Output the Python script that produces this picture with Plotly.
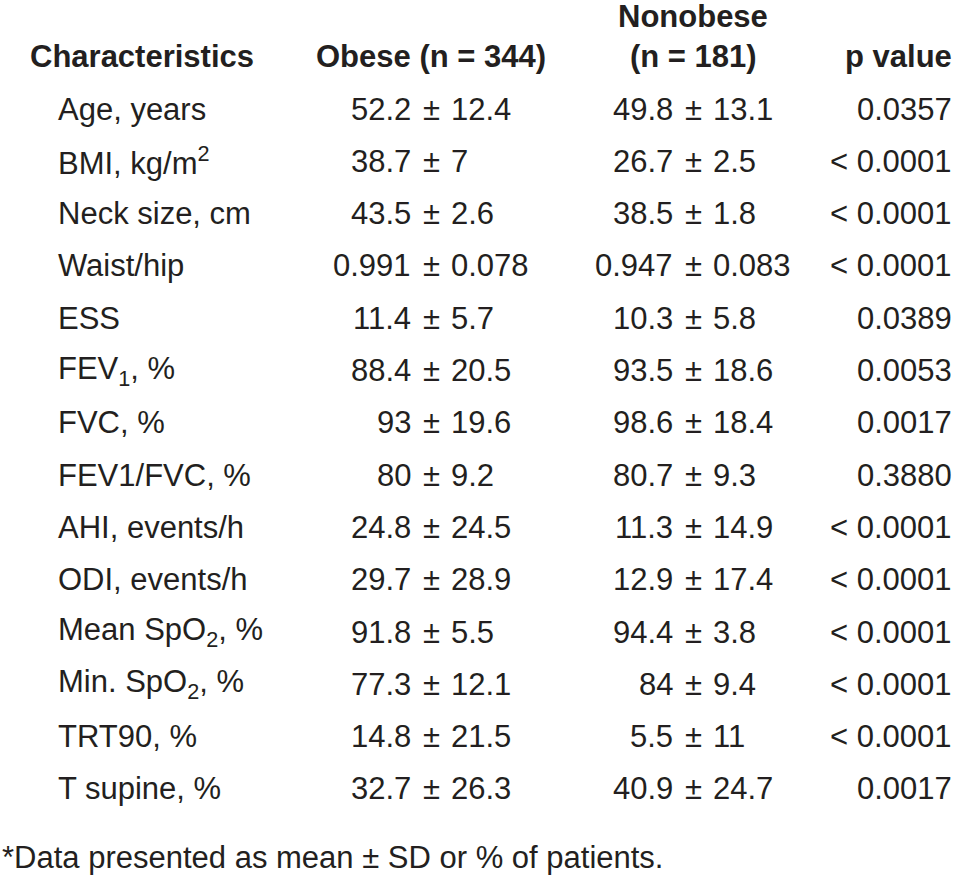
import plotly.graph_objects as go

# ---- data ----
characteristics = [
    "Age, years", "BMI, kg/m<sup>2</sup>", "Neck size, cm", "Waist/hip", "ESS",
    "FEV<sub>1</sub>, %", "FVC, %", "FEV1/FVC, %", "AHI, events/h", "ODI, events/h",
    "Mean SpO<sub>2</sub>, %", "Min. SpO<sub>2</sub>, %", "TRT90, %", "T supine, %",
]
obese_mean = [52.2, 38.7, 43.5, 0.991, 11.4, 88.4, 93, 80, 24.8, 29.7, 91.8, 77.3, 14.8, 32.7]
obese_sd = [12.4, 7, 2.6, 0.078, 5.7, 20.5, 19.6, 9.2, 24.5, 28.9, 5.5, 12.1, 21.5, 26.3]
nonobese_mean = [49.8, 26.7, 38.5, 0.947, 10.3, 93.5, 98.6, 80.7, 11.3, 12.9, 94.4, 84, 5.5, 40.9]
nonobese_sd = [13.1, 2.5, 1.8, 0.083, 5.8, 18.6, 18.4, 9.3, 14.9, 17.4, 3.8, 9.4, 11, 24.7]
p_values = ["0.0357", "< 0.0001", "< 0.0001", "< 0.0001", "0.0389", "0.0053", "0.0017",
            "0.3880", "< 0.0001", "< 0.0001", "< 0.0001", "< 0.0001", "< 0.0001", "0.0017"]
header_characteristics = "Characteristics"
header_obese = "Obese (n = 344)"
header_nonobese = ["Nonobese", "(n = 181)"]
header_p = "p value"
footnote = "*Data presented as mean ± SD or % of patients."

# ---- layout / style ----
W, H = 954, 882
FONT = "Liberation Sans, Arial, Helvetica, sans-serif"
SIZE = 31
COLOR = "#231f20"
ROW0_PX, PITCH_PX = 109, 52.3

X_HEAD_LEFT = 30
X_LABEL = 58
X_OBESE = 431
X_NONOBESE = 693
X_P = 952
X_FOOT = 2
GAP = 20

fmt = lambda v: f"{v:g}"

fig = go.Figure()
# invisible trace so the axes (used as the layout scale) exist
fig.add_trace(go.Scatter(x=[0, W], y=[0, 0], mode="markers",
                         marker=dict(opacity=0), hoverinfo="skip", showlegend=False))

ann = []
def add(text, x, y, xanchor, bold=False, size=SIZE):
    ann.append(dict(text=f"<b>{text}</b>" if bold else text, x=x, y=y, xref="x", yref="y",
                    xanchor=xanchor, yanchor="middle", showarrow=False,
                    borderpad=0, borderwidth=0,
                    font=dict(family=FONT, size=size, color=COLOR)))

# header
add(header_characteristics, X_HEAD_LEFT, -1, "left", True)
add(header_obese, X_OBESE, -1, "center", True)
add(header_nonobese[0], X_NONOBESE, -1.77, "center", True)
add(header_nonobese[1], X_NONOBESE, -1, "center", True)
add(header_p, X_P, -1, "right", True)

for i, lab in enumerate(characteristics):
    add(lab, X_LABEL, i, "left")
    for xc, m, s in ((X_OBESE, obese_mean[i], obese_sd[i]),
                     (X_NONOBESE, nonobese_mean[i], nonobese_sd[i])):
        add(fmt(m), xc - GAP, i, "right")
        add("±", xc, i, "center")
        add(fmt(s), xc + GAP, i, "left")
    add(p_values[i], X_P, i, "right")

add(footnote, X_FOOT, 14.32, "left")

y_top = -ROW0_PX / PITCH_PX
y_bot = (H - ROW0_PX) / PITCH_PX
fig.update_layout(
    width=W, height=H, margin=dict(l=0, r=0, t=0, b=0),
    paper_bgcolor="white", plot_bgcolor="white",
    xaxis=dict(range=[0, W], visible=False, fixedrange=True),
    yaxis=dict(range=[y_bot, y_top], visible=False, fixedrange=True),
    annotations=ann, showlegend=False,
)
# remove the default page margin so the figure fills the window exactly
fig.write_html("out.html", config={"displayModeBar": False},
               post_script="document.body.style.margin='0px';")
